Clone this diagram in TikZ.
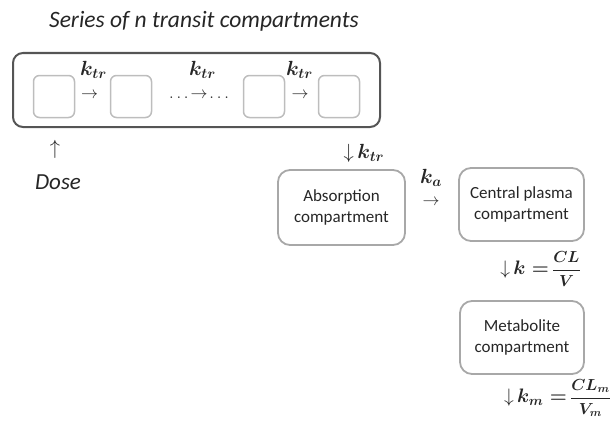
\RequirePackage{fix-cm}
\documentclass[tikz,border=0pt]{standalone}
\usepackage{fontspec}
\setmainfont{Carlito}
\definecolor{outerc}{HTML}{555555}
\definecolor{sqc}{HTML}{BDBDBD}
\definecolor{boxc}{HTML}{A8A8A8}
\definecolor{txt}{HTML}{262626}
\tikzset{
  outerbox/.style={draw=outerc, line width=2pt, rounded corners=10pt, minimum width=367pt, minimum height=74pt, inner sep=0},
  sqbox/.style={draw=sqc, line width=1.5pt, rounded corners=6pt, minimum width=41pt, minimum height=42pt, inner sep=0},
  compbox/.style={draw=boxc, line width=1.8pt, rounded corners=12pt, align=center, inner sep=0, text=txt,
    font=\fontsize{17}{21.5}\selectfont},
  klbl/.style={inner sep=0, text=txt, font=\fontsize{20.5}{24}\selectfont\boldmath},
  arr/.style={inner sep=0, text=txt, font=\fontsize{17}{19}\selectfont},
  darr/.style={inner sep=0, text=txt, font=\fontsize{20.5}{24}\selectfont},
  ital/.style={inner sep=0, text=txt, font=\itshape}
}
\begin{document}
\begin{tikzpicture}[x=1pt,y=-1pt]
\useasboundingbox (0,0) rectangle (612,428);
% title
\node[ital, font=\fontsize{23.5}{27}\selectfont\itshape] (title) at (204,21) {Series of n transit compartments};
% series box
\node[outerbox] (series) at (196.5,90) {};
\node[sqbox] (s1) at (54,96.5) {};
\node[sqbox] (s2) at (131,96.5) {};
\node[sqbox] (s3) at (264,96.5) {};
\node[sqbox] (s4) at (339,96.5) {};
\node[klbl] (k1) at (93.5,70) {$k_{tr}$};
\node[arr] (a1) at (89.5,95) {$\rightarrow$};
\node[klbl] (k2) at (202.5,70) {$k_{tr}$};
\node[arr] (a2) at (199,95) {$\ldots\!\rightarrow\!\ldots$};
\node[klbl] (k3) at (299.5,70) {$k_{tr}$};
\node[arr] (a3) at (300,95) {$\rightarrow$};
% dose
\node[darr] (up) at (55,149) {$\uparrow$};
\node[ital, font=\fontsize{23}{26}\selectfont\itshape] (dose) at (58,182) {Dose};
% to absorption
\node[darr] (ktr4) at (364,153) {$\downarrow$\,{\boldmath$k_{tr}$}};
\node[compbox, minimum width=127pt, minimum height=75pt] (abs) at (341.5,207.5) {Absorption\\compartment};
\node[klbl] (ka) at (431,178) {$k_a$};
\node[arr] (aa) at (431,202) {$\rightarrow$};
\node[compbox, minimum width=125pt, minimum height=73pt] (cen) at (521.5,204.5) {Central plasma\\compartment};
\node[darr, anchor=east, font=\fontsize{19.5}{22}\selectfont] (kel) at (581,269) {$\downarrow$\,{\boldmath$k=$}\,{\fontsize{16}{18}\selectfont\boldmath$\displaystyle\frac{CL}{V}$}};
\node[compbox, minimum width=124pt, minimum height=73pt] (met) at (522,337.5) {Metabolite\\compartment};
\node[darr, anchor=east, font=\fontsize{19.5}{22}\selectfont] (km) at (611,398) {$\downarrow$\,{\boldmath$k_m=$}\,{\fontsize{16}{18}\selectfont\boldmath$\displaystyle\frac{CL_m}{V_m}$}};
\end{tikzpicture}
\end{document}
